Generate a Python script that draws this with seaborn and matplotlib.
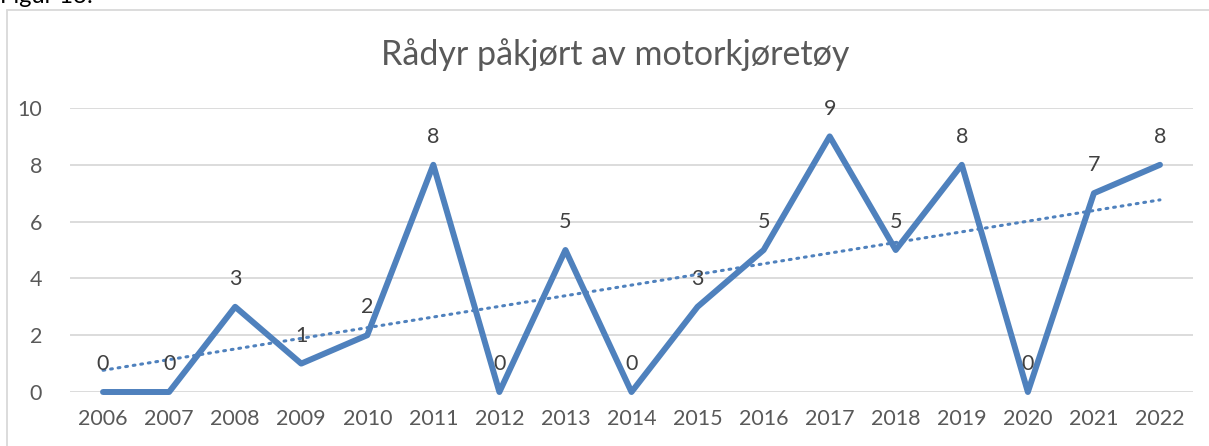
import pandas as pd
import numpy as np
import seaborn as sns
import matplotlib.pyplot as plt
from matplotlib.lines import Line2D

years = [2006, 2007, 2008, 2009, 2010, 2011, 2012, 2013, 2014, 2015, 2016,
         2017, 2018, 2019, 2020, 2021, 2022]
counts = [0, 0, 3, 1, 2, 8, 0, 5, 0, 3, 5, 9, 5, 8, 0, 7, 8]
title = "Rådyr påkjørt av motorkjøretøy"

df = pd.DataFrame({"År": years, "Antall": counts})

sns.set_theme(style="white")
plt.rcParams['font.family'] = ['Lato', 'DejaVu Sans']
txt = '#595959'
blue = '#4F81BD'
grid = '#D9D9D9'

fig = plt.figure(figsize=(12.09, 4.46), dpi=100)
ax = fig.add_axes([70 / 1209, 1 - 392 / 446, (1193 - 70) / 1209, (392 - 108) / 446])

# lineær trendlinje som i Excel
sns.regplot(data=df, x="År", y="Antall", scatter=False, ci=None, ax=ax,
            line_kws=dict(color=blue, lw=2.2, ls=(0, (0.6, 1.9)),
                          dash_capstyle='round', zorder=2))
sns.lineplot(data=df, x="År", y="Antall", ax=ax, color=blue, lw=4.3,
             zorder=3, clip_on=False)

for x, v in zip(years, counts):
    ax.annotate(str(v), (x, v), xytext=(0, 20), textcoords='offset points',
                ha='center', va='center', fontsize=15.5, color='#404040')

ax.set_xlim(2005.5, 2022.5)
ax.set_ylim(0, 10)
ax.set_xticks(years)
ax.set_xticklabels([str(y) for y in years])
ax.set_yticks([0, 2, 4, 6, 8, 10])
ax.set_xlabel("")
ax.set_ylabel("")
ax.grid(axis='y', color=grid, lw=1.3)
ax.set_axisbelow(True)
for s in ax.spines.values():
    s.set_visible(False)
ax.tick_params(axis='both', length=0, labelsize=15.5, colors=txt)
ax.tick_params(axis='x', pad=12)
ax.tick_params(axis='y', pad=20)

fig.text(0.509, 1 - 55 / 446, title, ha='center', va='center',
         fontsize=24.5, color=txt)
fig.text(0.0, 1 - 3 / 446, "Figur 13:", ha='left', va='baseline',
         fontsize=17, color='black')

fig.add_artist(Line2D([7 / 1209, 7 / 1209], [0, 1 - 9.5 / 446],
                      transform=fig.transFigure, color=grid, lw=1.3))
fig.add_artist(Line2D([7 / 1209, 1], [1 - 9.5 / 446, 1 - 9.5 / 446],
                      transform=fig.transFigure, color=grid, lw=1.3))

fig.savefig('out.png', dpi=100)
